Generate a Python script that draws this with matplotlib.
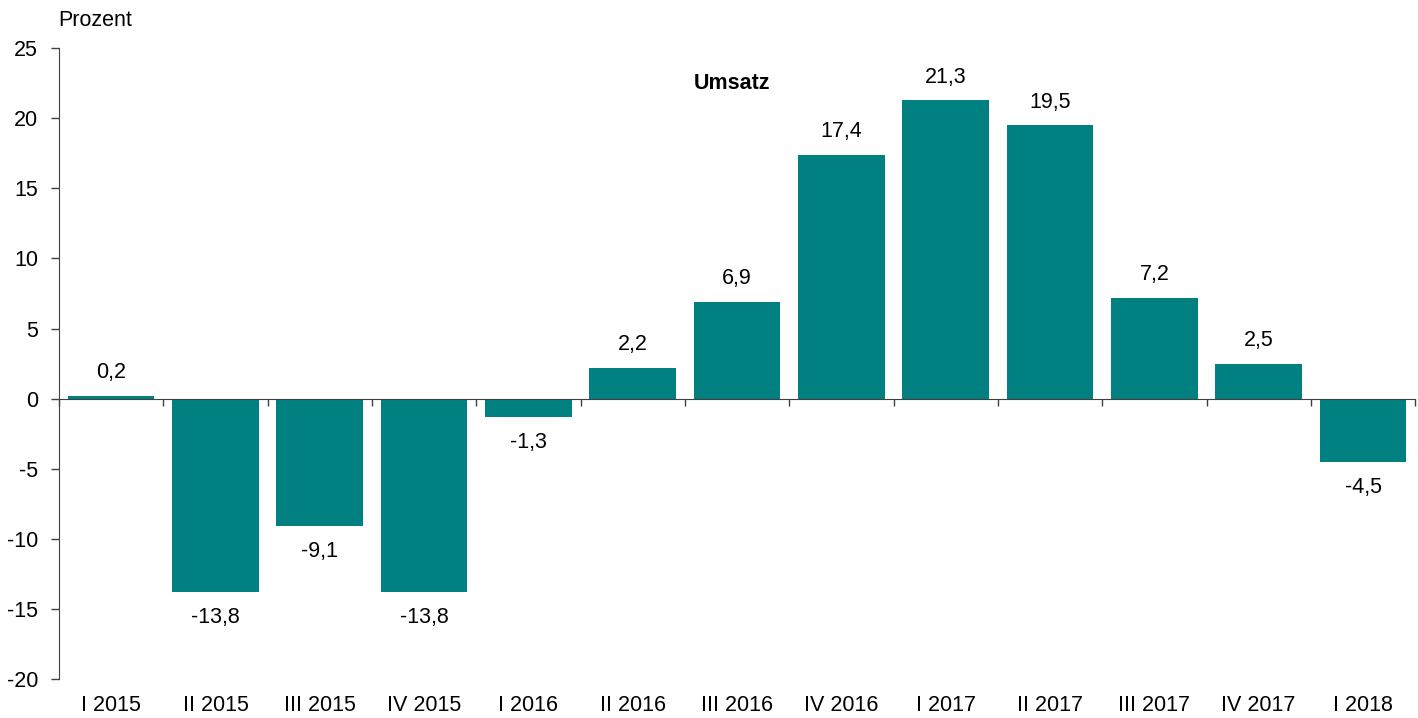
import matplotlib.pyplot as plt
import numpy as np

plt.rcParams['font.family'] = ['Liberation Sans', 'DejaVu Sans']

# Quartale und Veränderung des Umsatzes in Prozent
quarters = ['I 2015', 'II 2015', 'III 2015', 'IV 2015', 'I 2016', 'II 2016', 'III 2016',
            'IV 2016', 'I 2017', 'II 2017', 'III 2017', 'IV 2017', 'I 2018']
umsatz = [0.2, -13.8, -9.1, -13.8, -1.3, 2.2, 6.9, 17.4, 21.3, 19.5, 7.2, 2.5, -4.5]
yticks = [-20, -15, -10, -5, 0, 5, 10, 15, 20, 25]

teal = '#008080'
fs = 15.5

fig = plt.figure(figsize=(14.18, 7.18), dpi=100)
ax = fig.add_axes([0.0416, 0.0543, 0.9564, 0.8787])

x = np.arange(len(quarters))
bars = ax.bar(x, umsatz, width=0.83, color=teal, zorder=2)

ax.set_xlim(-0.5, len(quarters) - 0.5)
ax.set_ylim(-20, 25)
ax.set_yticks(yticks)
ax.set_yticklabels([str(v) for v in yticks], fontsize=fs)
ax.tick_params(axis='y', length=6, width=1, color='#404040', pad=9)

# x-Achse bei Null mit Trennstrichen zwischen den Quartalen
for s in ['top', 'right']:
    ax.spines[s].set_visible(False)
ax.spines['bottom'].set_position(('data', 0))
ax.spines['bottom'].set_color('#404040')
ax.spines['left'].set_color('#404040')
ax.set_xticks(x)
ax.set_xticklabels([])
ax.tick_params(axis='x', which='major', length=0)
ax.set_xticks(np.arange(len(quarters) + 1) - 0.5, minor=True)
ax.tick_params(axis='x', which='minor', length=5, width=1, color='#404040', direction='out')

# Quartalsbeschriftung unten
for xi, q in zip(x, quarters):
    ax.text(xi, -0.042, q, transform=ax.get_xaxis_transform(), ha='center', va='center',
            fontsize=fs)

# Werte an den Balken
for xi, v in zip(x, umsatz):
    lab = f'{v:.1f}'.replace('.', ',')
    off = 16.5 if v >= 0 else -18.5
    ax.annotate(lab, (xi, v), xytext=(0, off), textcoords='offset points',
                ha='center', va='center', fontsize=fs)

ax.text(5.95, 22.5, 'Umsatz', ha='center', va='center', fontsize=fs, fontweight='bold')
fig.text(0.041, 0.972, 'Prozent', ha='left', va='center', fontsize=fs)

fig.savefig('out.png', dpi=100)
plt.close()
